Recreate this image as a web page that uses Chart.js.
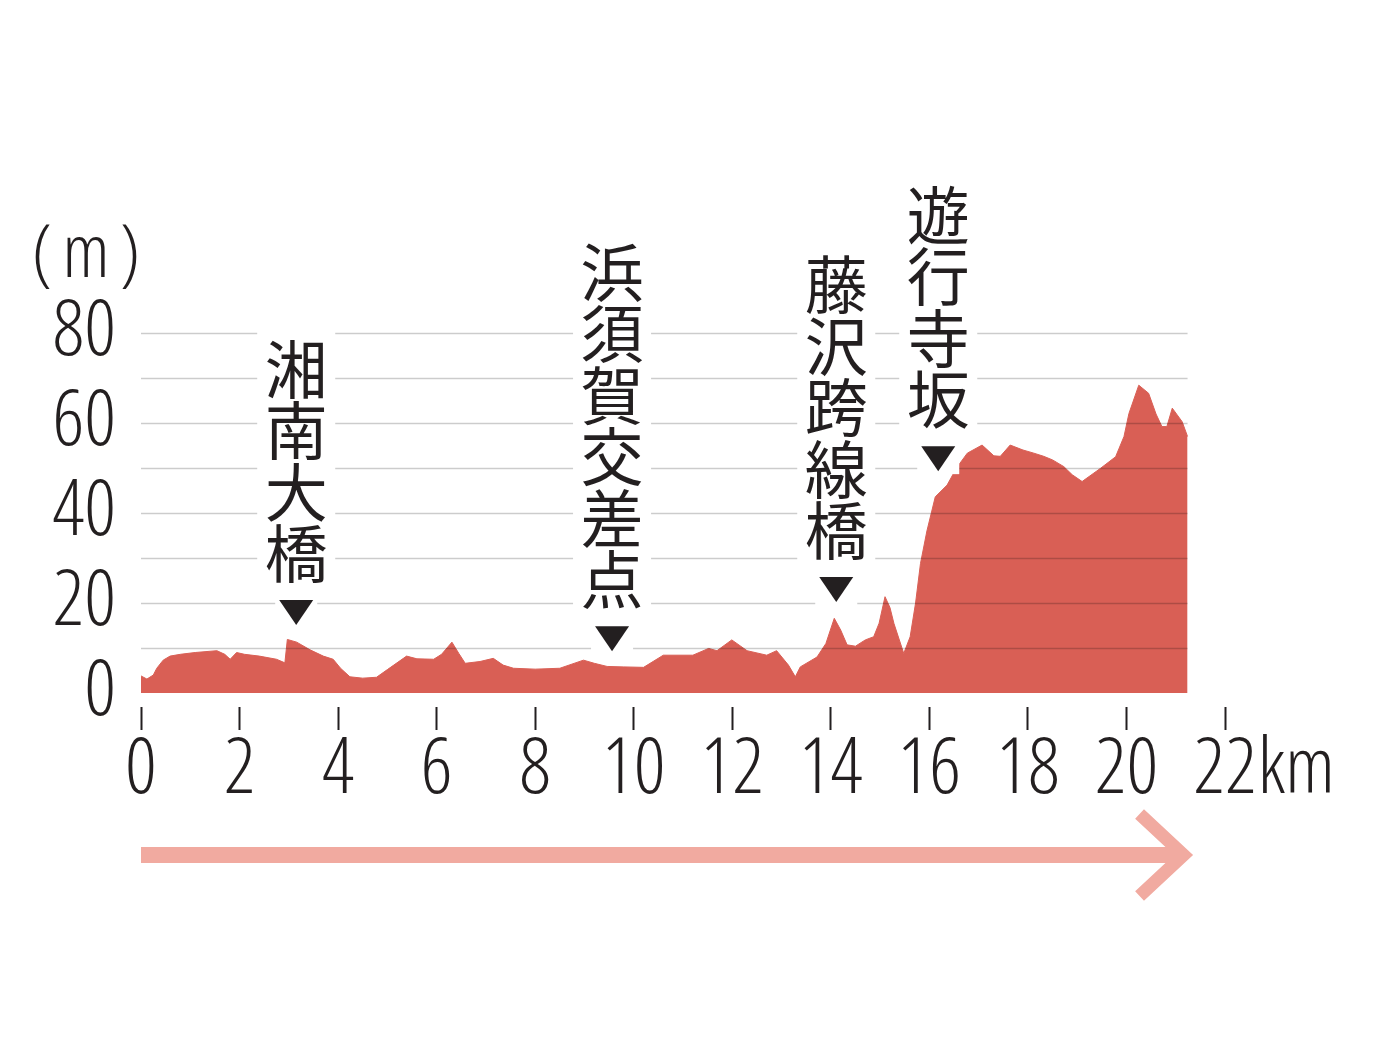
<!DOCTYPE html>
<html>
<head>
<meta charset="utf-8">
<script src="https://cdn.jsdelivr.net/npm/chart.js@4.4.1/dist/chart.umd.min.js"></script>
<style>
html,body{margin:0;padding:0;background:#fff;}
#wrap{width:1386px;height:1053px;position:relative;}
</style>
</head>
<body>
<div id="wrap"><canvas id="c"></canvas></div>
<script>
// ---- data ----
const distanceKm = [0.0,0.12,0.25,0.32,0.45,0.59,0.8,1.1,1.54,1.7,1.81,1.94,2.1,2.4,2.75,2.92,2.97,3.16,3.43,3.7,3.9,4.05,4.24,4.5,4.78,5.0,5.39,5.6,5.94,6.1,6.31,6.45,6.58,6.88,7.15,7.35,7.56,8.0,8.5,8.98,9.2,9.46,9.8,10.2,10.6,11.2,11.52,11.69,11.99,12.3,12.7,12.9,13.14,13.28,13.38,13.72,13.9,14.07,14.2,14.33,14.5,14.7,14.87,14.98,15.1,15.2,15.28,15.48,15.61,15.72,15.82,15.95,16.12,16.36,16.55,16.77,17.07,17.31,17.44,17.64,17.9,18.12,18.32,18.5,18.73,18.9,19.1,19.47,19.78,19.95,20.05,20.25,20.45,20.6,20.72,20.82,20.93,21.13,21.24];
const elevationM = [3.8,3.1,4.0,5.5,7.3,8.2,8.6,9.0,9.4,8.6,7.5,9.0,8.6,8.2,7.5,6.7,11.9,11.3,9.6,8.2,7.5,5.5,3.6,3.3,3.5,5.2,8.2,7.6,7.5,8.6,11.3,8.8,6.6,7.0,7.7,6.2,5.5,5.3,5.5,7.3,6.6,5.9,5.8,5.7,8.4,8.4,9.9,9.4,11.8,9.4,8.4,9.4,6.2,3.6,5.8,8.0,11.0,16.6,14.0,10.7,10.4,11.8,12.5,15.5,21.4,19.0,15.5,8.8,12.5,20.0,28.8,36.0,43.6,46.2,50.0,53.3,55.1,52.7,52.6,55.1,54.0,53.3,52.6,51.8,50.3,48.5,47.0,49.9,52.5,57.0,62.1,68.4,66.6,62.0,59.2,59.2,63.3,60.3,57.0];
const xTickValues = [0,2,4,6,8,10,12,14,16,18,20,22];
const xUnit = 'km';
const yTickValues = [0,20,40,60,80];
const yUnit = '(m)';
const gridLevels = [10,20,30,40,50,60,70,80];
const landmarkNames = ['湘南大橋','浜須賀交差点','藤沢跨線橋','遊行寺坂'];
const landmarkKm = [3.15, 9.56, 14.11, 16.18];
const landmarkMarkerM = [15.1, 9.3, 20.2, 49.3];

// ---- styles ----
const LATIN = "'Open Sans','Noto Sans',sans-serif";
const STRETCH = 'semi-condensed 300';
const CJK = "'Noto Sans CJK JP','Noto Sans CJK SC',sans-serif";
const INK = '#231f20';
const FILL = '#d95f55';
const ARROW = '#f1aaa0';
const TICK_SIZE = 78;

const points = distanceKm.map((d,i)=>({x:d,y:elevationM[i]}));

const overlay = {
  id:'overlay',
  afterDatasetsDraw(chart){
    const ctx = chart.ctx, xs = chart.scales.x, ys = chart.scales.y;
    const x0 = xs.getPixelForValue(distanceKm[0]);
    const x1 = xs.getPixelForValue(distanceKm[distanceKm.length-1]);
    ctx.save();
    // horizontal grid lines (over the fill)
    ctx.strokeStyle = 'rgba(0,0,0,0.2)';
    ctx.lineWidth = 1.6;
    gridLevels.forEach(v=>{
      const y = Math.round(ys.getPixelForValue(v))+0.5;
      ctx.beginPath(); ctx.moveTo(x0,y); ctx.lineTo(x1,y); ctx.stroke();
    });
    // landmarks
    const step = 61.5, triH = 25, triW = 34, gap = 18;
    landmarkNames.forEach((name,i)=>{
      const cx = xs.getPixelForValue(landmarkKm[i]);
      const tip = ys.getPixelForValue(landmarkMarkerM[i]);
      const triTop = tip - triH;
      const textBottom = triTop - gap;
      const chars = Array.from(name);
      const textTop = textBottom - chars.length*step;
      ctx.fillStyle = '#fff';
      ctx.fillRect(cx-39, textTop-8, 78, textBottom-textTop+14);
      ctx.fillRect(cx-21, triTop-6, 42, triH+9);
      ctx.fillStyle = INK;
      ctx.font = "400 63px " + CJK;
      ctx.textAlign = 'center';
      ctx.textBaseline = 'middle';
      chars.forEach((ch,k)=>{
        ctx.fillText(ch, cx, textTop + step*(k+0.5) + 2);
      });
      ctx.beginPath();
      ctx.moveTo(cx-triW/2, triTop);
      ctx.lineTo(cx+triW/2, triTop);
      ctx.lineTo(cx, tip);
      ctx.closePath();
      ctx.fill();
    });
    ctx.restore();
  },
  afterDraw(chart){
    const ctx = chart.ctx, xs = chart.scales.x;
    ctx.save();
    // unit label for y axis
    ctx.fillStyle = INK;
    ctx.textBaseline = 'middle';
    ctx.font = STRETCH + " 74px " + LATIN;
    ctx.textAlign = 'left';
    ctx.fillText(yUnit[0], 32, 256);
    ctx.textAlign = 'center';
    ctx.fillText(yUnit[1], 86, 256);
    ctx.textAlign = 'right';
    ctx.fillText(yUnit[2], 140, 256);
    // km after the last tick label
    const lastVal = xTickValues[xTickValues.length-1];
    const lx = xs.getPixelForValue(lastVal);
    ctx.font = STRETCH + " " + TICK_SIZE + "px " + LATIN;
    const w = ctx.measureText(String(lastVal)).width;
    ctx.textAlign = 'left';
    const items = xs._labelItems || [];
    let ly = 768;
    ctx.textBaseline = 'middle';
    if (items.length) {
      const it = items[items.length-1];
      if (it.options && it.options.translation) {
        ly = it.options.translation[1] + (it.textOffset||0);
        ctx.textBaseline = it.options.textBaseline || 'middle';
      }
    }
    ctx.fillText(xUnit, lx + w/2 + 1, ly);
    // direction arrow
    const ax0 = xs.getPixelForValue(distanceKm[0]);
    const ax1 = xs.getPixelForValue(distanceKm[distanceKm.length-1]);
    const ay = 855;
    ctx.fillStyle = ARROW;
    ctx.fillRect(ax0, ay-8, ax1-ax0-8, 16);
    ctx.strokeStyle = ARROW;
    ctx.lineWidth = 13;
    ctx.lineJoin = 'miter';
    ctx.lineCap = 'butt';
    ctx.beginPath();
    ctx.moveTo(ax1-48, ay-41);
    ctx.lineTo(ax1-4, ay);
    ctx.lineTo(ax1-48, ay+41);
    ctx.stroke();
    ctx.restore();
  }
};

new Chart(document.getElementById('c'), {
  type:'line',
  data:{datasets:[{
    data:points,
    fill:'origin',
    backgroundColor:FILL,
    borderColor:FILL,
    borderWidth:1,
    pointRadius:0,
    tension:0
  }]},
  options:{
    responsive:true,
    maintainAspectRatio:false,
    animation:false,
    layout:{padding:{top:333,right:161,left:0,bottom:0}},
    plugins:{legend:{display:false},tooltip:{enabled:false}},
    scales:{
      x:{
        type:'linear', min:0, max:22,
        afterFit(s){ s.height = 360; },
        afterBuildTicks(s){ s.ticks = xTickValues.map(v=>({value:v})); },
        ticks:{autoSkip:false,maxRotation:0,minRotation:0,padding:-6,color:INK,
          font:{family:LATIN,size:TICK_SIZE,weight:STRETCH},
          callback:v=>String(v)},
        grid:{display:true,drawOnChartArea:false,drawTicks:true,tickLength:37,tickWidth:2,
          tickColor:INK,tickBorderDash:[23,14],tickBorderDashOffset:23},
        border:{display:false}
      },
      y:{
        min:0,max:80,
        afterFit(s){ s.width = 141; },
        afterBuildTicks(s){ s.ticks = yTickValues.map(v=>({value:v})); },
        ticks:{autoSkip:false,padding:17,color:INK,font:{family:LATIN,size:TICK_SIZE,weight:STRETCH},callback:v=>String(v)},
        grid:{display:false},
        border:{display:false}
      }
    }
  },
  plugins:[overlay]
});
</script>
</body>
</html>
